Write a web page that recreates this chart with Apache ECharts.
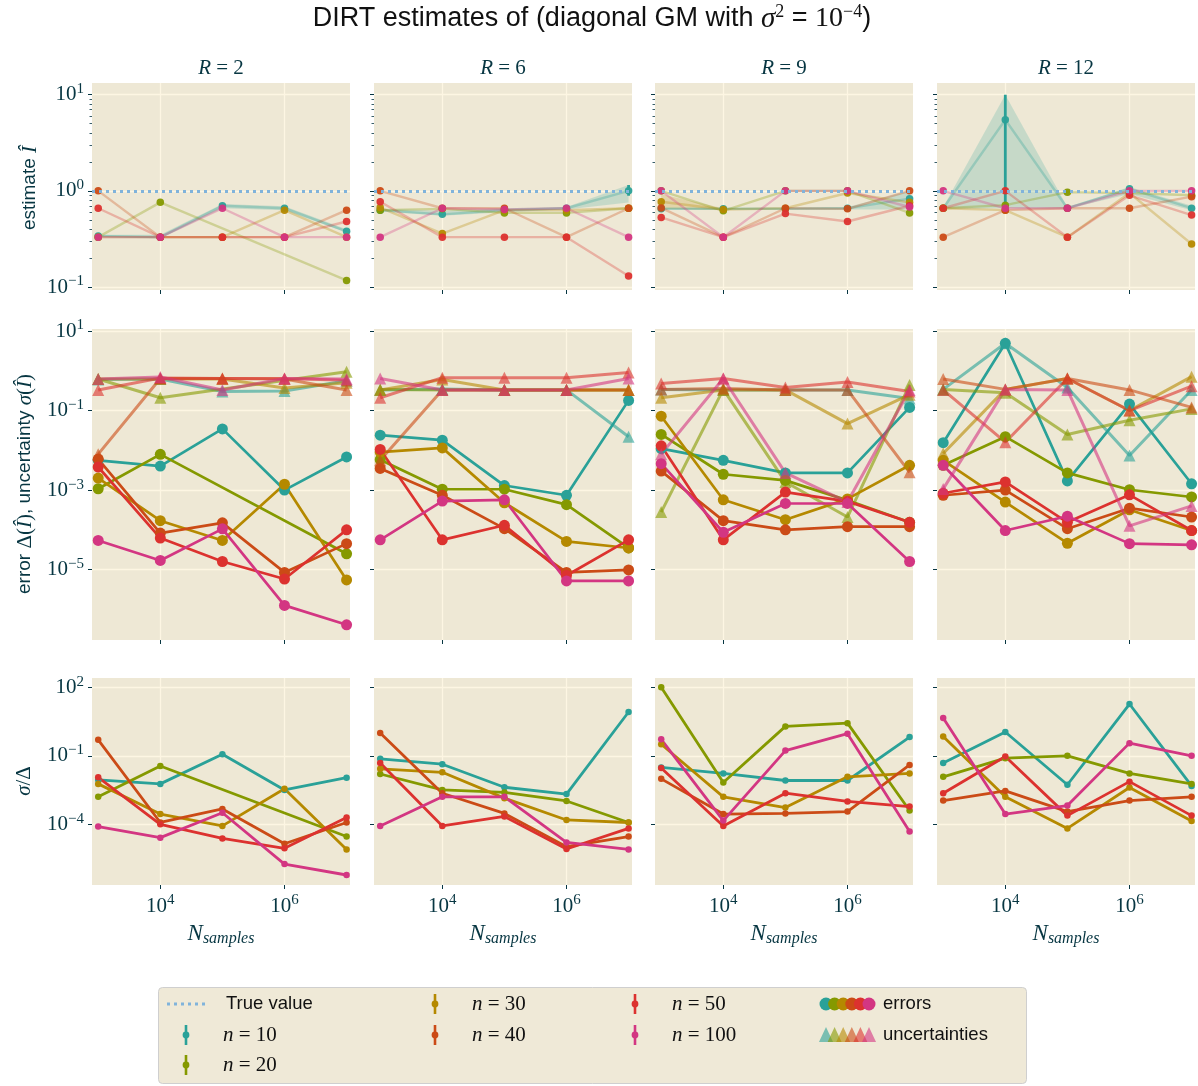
<!DOCTYPE html>
<html>
<head>
<meta charset="utf-8">
<script src="https://cdn.jsdelivr.net/npm/echarts@6/dist/echarts.min.js"></script>
<style>
  html, body { margin: 0; padding: 0; background: #ffffff; }
  #chart { width: 1198px; height: 1086px; }
</style>
</head>
<body>
<div id="chart"></div>
<script>
// ---- data -----------------------------------------------------------------
const N_SAMPLES = [1e3, 1e4, 1e5, 1e6, 1e7];
const RANKS = [2, 6, 9, 12];
const N_VALUES = [10, 20, 30, 40, 50, 100];
const TRUE_VALUE = 1;
const X_TICKS = [1e4, 1e6];
const Y_TICKS_EST = [0.1, 1, 10];
const Y_MINOR_EST = [0.2, 0.3, 0.4, 0.5, 0.6, 0.7, 0.8, 0.9, 2, 3, 4, 5, 6, 7, 8, 9];
const Y_TICKS_ERR = [10, 0.1, 1e-3, 1e-5];
const Y_TICKS_RATIO = [100, 0.1, 1e-4];

// estimate Î (one row per n, one column per N_samples)
const estimateR2 = [
  [0.34, 0.33, 0.70, 0.66, 0.38],
  [0.33, 0.76, null, null, 0.117],
  [0.33, 0.33, 0.33, 0.63, 0.33],
  [1.00, 0.33, 0.33, 0.33, 0.63],
  [0.66, 0.33, 0.33, 0.33, 0.48],
  [0.33, 0.33, 0.66, 0.33, 0.33]
];
const estimateR6 = [
  [0.63, 0.57, 0.63, 0.66, 1.00],
  [0.63, 0.65, 0.59, 0.59, 0.66],
  [0.67, 0.36, 0.63, 0.63, 0.66],
  [1.00, 0.66, 0.66, 0.33, 0.66],
  [0.77, 0.33, 0.33, 0.33, 0.13],
  [0.33, 0.66, 0.64, 0.66, 0.33]
];
const estimateR9 = [
  [0.65, 0.65, 0.65, 0.66, 0.83],
  [1.00, 0.62, 1.00, 1.00, 0.59],
  [0.77, 0.64, 0.66, 0.95, 0.76],
  [0.665, 0.33, 0.66, 0.65, 1.00],
  [0.53, 0.33, 0.58, 0.48, 0.70],
  [1.00, 0.33, 1.00, 1.00, 0.68]
];
const estimateR12 = [
  [0.66, 5.5, 0.66, 1.05, 0.66],
  [0.66, 0.71, 0.97, 0.95, 0.90],
  [0.66, 0.63, 0.33, 0.95, 0.28],
  [0.33, 0.63, 0.66, 0.66, 0.87],
  [0.66, 1.00, 0.33, 0.90, 0.56],
  [1.00, 0.66, 0.66, 1.00, 1.00]
];

// shaded uncertainty bands around Î
const bandsR2 = [{ n: 10, lo: [0.33, 0.32, 0.66, 0.63, 0.37], hi: [0.35, 0.35, 0.73, 0.69, 0.40] }];
const bandsR6 = [{ n: 10, lo: [0.61, 0.55, 0.60, 0.64, 0.755], hi: [0.65, 0.62, 0.66, 0.68, 1.15] }];
const bandsR9 = [
  { n: 10, lo: [0.64, 0.64, 0.64, 0.64, 0.64], hi: [0.67, 0.67, 0.67, 0.68, 1.0] },
  { n: 30, lo: [0.65, 0.63, null, null, null], hi: [0.92, 0.66, null, null, null] }
];
const bandsR12 = [{ n: 10, lo: [0.65, 0.66, 0.65, 0.93, 0.63], hi: [0.68, 10, 0.68, 1.1, 0.70] }];

// visible error bars on Î: [N_samples, low, high]
const errbarsR2 = [];
const errbarsR6 = [{ n: 10, bars: [[1e7, 0.89, 1.15]] }];
const errbarsR9 = [];
const errbarsR12 = [{ n: 10, bars: [[1e4, 0.63, 10]] }];

// error Δ(Î)
const errorR2 = [
  [5.6e-3, 4.0e-3, 3.45e-2, 1.0e-3, 6.8e-3],
  [1.08e-3, 7.9e-3, null, null, 2.5e-5],
  [2.0e-3, 1.7e-4, 5.4e-5, 1.4e-3, 5.5e-6],
  [6.0e-3, 8.3e-5, 1.5e-4, 8.5e-6, 4.5e-5],
  [3.8e-3, 6.2e-5, 1.6e-5, 5.8e-6, 1.0e-4],
  [5.4e-5, 1.7e-5, 1.06e-4, 1.26e-6, 4.1e-7]
];
const errorR6 = [
  [2.4e-2, 1.8e-2, 1.3e-3, 7.4e-4, 0.18],
  [5.8e-3, 1.05e-3, 1.05e-3, 4.3e-4, 3.5e-5],
  [9.0e-3, 1.15e-2, 4.8e-4, 5.1e-5, 3.5e-5],
  [3.5e-3, 7.4e-4, 1.07e-4, 8.5e-6, 9.8e-6],
  [1.05e-2, 5.6e-5, 1.3e-4, 7.1e-6, 5.6e-5],
  [5.6e-5, 5.3e-4, 5.7e-4, 5.2e-6, 5.2e-6]
];
const errorR9 = [
  [1.1e-2, 5.6e-3, 2.7e-3, 2.7e-3, 0.12],
  [2.5e-2, 2.5e-3, 1.75e-3, 5.5e-4, 1.55e-4],
  [7.2e-2, 5.7e-4, 1.8e-4, 6.0e-4, 4.2e-3],
  [3.0e-3, 1.7e-4, 1.0e-4, 1.2e-4, 1.2e-4],
  [1.3e-2, 5.6e-5, 8.9e-4, 5.2e-4, 1.55e-4],
  [4.6e-3, 8.7e-5, 4.6e-4, 4.6e-4, 1.6e-5]
];
const errorR12 = [
  [1.55e-2, 4.9, 1.7e-3, 0.145, 1.44e-3],
  [4.2e-3, 2.2e-2, 2.7e-3, 1.02e-3, 6.7e-4],
  [5.6e-3, 5.0e-4, 4.6e-5, 3.2e-4, 9.6e-5],
  [7.4e-4, 1.0e-3, 1.07e-4, 3.5e-4, 2.1e-4],
  [8.3e-4, 1.6e-3, 1.55e-4, 7.6e-4, 9.6e-5],
  [4.2e-3, 9.6e-5, 2.2e-4, 4.5e-5, 4.2e-5]
];

// uncertainty σ(Î)
const uncertR2 = [
  [0.60, 0.62, 0.30, 0.31, 0.56],
  [0.62, 0.21, null, null, 0.94],
  [0.62, 0.62, 0.62, 0.37, 0.50],
  [8.0e-3, 0.64, 0.64, 0.62, 0.33],
  [0.33, 0.66, 0.64, 0.64, 0.58],
  [0.62, 0.70, 0.33, 0.64, 0.62]
];
const uncertR6 = [
  [0.33, 0.35, 0.33, 0.33, 0.022],
  [0.34, 0.33, 0.33, 0.33, 0.33],
  [0.33, 0.60, 0.33, 0.33, 0.33],
  [5.6e-3, 0.33, 0.33, 0.33, 0.33],
  [0.21, 0.67, 0.67, 0.67, 0.90],
  [0.64, 0.33, 0.33, 0.33, 0.64]
];
const uncertR9 = [
  [0.34, 0.33, 0.33, 0.33, 0.20],
  [2.8e-4, 0.34, 1.6e-3, 2.1e-4, 0.44],
  [0.21, 0.33, 0.33, 0.047, 0.25],
  [0.34, 0.36, 0.33, 0.33, 2.8e-3],
  [0.48, 0.64, 0.38, 0.52, 0.30],
  [8.0e-3, 0.64, 2.7e-3, 5.0e-4, 0.33]
];
const uncertR12 = [
  [0.34, 4.9, 0.38, 7.4e-3, 0.33],
  [0.34, 0.28, 2.5e-2, 5.7e-2, 0.11],
  [8.3e-3, 0.34, 0.64, 0.10, 0.71],
  [0.62, 0.34, 0.64, 0.33, 0.12],
  [0.33, 1.6e-2, 0.64, 0.10, 0.41],
  [1.07e-3, 0.34, 0.33, 1.26e-4, 4.0e-4]
];

// ratio plotted on the σ/Δ axis
const ratioR2 = [
  [8.9e-3, 5.9e-3, 0.117, 3.2e-3, 1.1e-2],
  [1.6e-3, 3.6e-2, null, null, 2.9e-5],
  [5.9e-3, 2.8e-4, 8.5e-5, 3.6e-3, 7.9e-6],
  [0.50, 1.2e-4, 4.7e-4, 1.4e-5, 1.2e-4],
  [1.15e-2, 1.0e-4, 2.4e-5, 8.9e-6, 2.0e-4],
  [8.0e-5, 2.6e-5, 3.2e-4, 1.8e-6, 6.0e-7]
];
const ratioR6 = [
  [7.4e-2, 4.3e-2, 4.2e-3, 2.1e-3, 8.3],
  [1.6e-2, 3.2e-3, 2.5e-3, 1.05e-3, 1.2e-4],
  [2.7e-2, 1.9e-2, 1.4e-3, 1.55e-4, 1.2e-4],
  [0.99, 2.3e-3, 3.0e-4, 1.05e-5, 2.9e-5],
  [4.8e-2, 8.5e-5, 2.2e-4, 8.3e-6, 6.6e-5],
  [8.5e-5, 1.6e-3, 1.6e-3, 1.6e-5, 7.9e-6]
];
const ratioR9 = [
  [3.1e-2, 1.7e-2, 8.3e-3, 8.3e-3, 0.66],
  [100, 6.8e-3, 1.95, 2.7, 4.0e-4],
  [0.32, 1.6e-3, 5.4e-4, 1.2e-2, 1.7e-2],
  [9.8e-3, 2.8e-4, 3.0e-4, 3.6e-4, 4.0e-2],
  [2.9e-2, 8.5e-5, 2.3e-3, 1.0e-3, 6.0e-4],
  [0.53, 1.45e-4, 0.17, 0.93, 4.8e-5]
];
const ratioR12 = [
  [4.8e-2, 1.1, 5.4e-3, 18.6, 4.8e-3],
  [1.2e-2, 7.9e-2, 0.10, 1.7e-2, 5.9e-3],
  [0.71, 1.6e-3, 6.6e-5, 4.1e-3, 1.4e-4],
  [1.1e-3, 2.9e-3, 3.6e-4, 1.1e-3, 1.6e-3],
  [2.3e-3, 9.3e-2, 2.4e-4, 7.4e-3, 2.4e-4],
  [4.5, 2.8e-4, 6.6e-4, 0.36, 0.10]
];

const ESTIMATES = [estimateR2, estimateR6, estimateR9, estimateR12];
const BANDS = [bandsR2, bandsR6, bandsR9, bandsR12];
const ERRBARS = [errbarsR2, errbarsR6, errbarsR9, errbarsR12];
const ERRORS = [errorR2, errorR6, errorR9, errorR12];
const UNCERTS = [uncertR2, uncertR6, uncertR9, uncertR12];
const RATIOS = [ratioR2, ratioR6, ratioR9, ratioR12];

// ---- style ----------------------------------------------------------------
const COLORS = ['#2aa198', '#859900', '#b58900', '#cb4b16', '#dc322f', '#d33682'];
const PANEL_BG = '#eee8d5';
const GRID_LINE = '#fdf6e3';
const INK = '#073642';
const TRUE_COLOR = '#80b3db';
const SANS = "'Liberation Sans', Arial, sans-serif";
const SERIF = "'Liberation Serif', 'Times New Roman', serif";

const COL_LEFT = [92, 374, 655, 937];
const COL_WIDTH = 258;
const ROW_TOP = [83, 329, 678];
const ROW_HEIGHT = [207, 311, 207];
const X_LOG_RANGE = [2.9, 7.055];
const ROW_LOG_RANGE = [[-1.031, 1.122], [-6.77, 1.05], [-6.66, 2.41]];
const ROW_TICKS = [Y_TICKS_EST, Y_TICKS_ERR, Y_TICKS_RATIO];

const powRich = {
  b: { fontFamily: SERIF, fontSize: 21, color: INK },
  e: { fontFamily: SERIF, fontSize: 15, color: INK, padding: [0, 0, 11, 0] }
};
function powLabel(v) {
  const e = Math.round(Math.log10(v));
  return '{b|10}{e|' + (e < 0 ? '\u2212' : '') + Math.abs(e) + '}';
}

const grids = [], xAxes = [], yAxes = [], minorAxes = [], series = [];

for (let r = 0; r < 3; r++) {
  for (let c = 0; c < 4; c++) {
    const gi = r * 4 + c;
    grids.push({
      left: COL_LEFT[c], top: ROW_TOP[r], width: COL_WIDTH, height: ROW_HEIGHT[r],
      show: true, backgroundColor: PANEL_BG, borderWidth: 0, containLabel: false
    });
    xAxes.push({
      type: 'log', logBase: 10, gridIndex: gi,
      min: Math.pow(10, X_LOG_RANGE[0]), max: Math.pow(10, X_LOG_RANGE[1]),
      axisLine: { show: false },
      axisTick: { show: true, customValues: X_TICKS, length: 4, lineStyle: { color: INK, width: 1 } },
      axisLabel: {
        show: r === 2, customValues: X_TICKS, margin: 8,
        formatter: powLabel, rich: powRich
      },
      splitLine: { show: true, lineStyle: { color: GRID_LINE, width: 1.3 } },
      minorTick: { show: false }, minorSplitLine: { show: false }
    });
    yAxes.push({
      type: 'log', logBase: 10, gridIndex: gi, position: 'left',
      min: Math.pow(10, ROW_LOG_RANGE[r][0]), max: Math.pow(10, ROW_LOG_RANGE[r][1]),
      axisLine: { show: false },
      axisTick: { show: true, customValues: ROW_TICKS[r], length: 4, lineStyle: { color: INK, width: 1 } },
      axisLabel: {
        show: c === 0, customValues: ROW_TICKS[r], margin: 8,
        formatter: powLabel, rich: powRich
      },
      splitLine: { show: true, lineStyle: { color: GRID_LINE, width: 1.3 } }
    });
    if (r === 0) {
      minorAxes.push({
        type: 'log', logBase: 10, gridIndex: gi, position: 'left', offset: 0,
        min: Math.pow(10, ROW_LOG_RANGE[0][0]), max: Math.pow(10, ROW_LOG_RANGE[0][1]),
        axisLine: { show: false },
        axisTick: { show: true, customValues: Y_MINOR_EST, length: 2.5, lineStyle: { color: INK, width: 0.8 } },
        axisLabel: { show: false },
        splitLine: { show: false }
      });
    }
  }
}

function pointsOf(values) {
  const pts = [];
  N_SAMPLES.forEach((x, i) => { if (values[i] != null) pts.push([x, values[i]]); });
  return pts;
}

// ---- row 1: estimates ------------------------------------------------------
RANKS.forEach((R, c) => {
  const gi = c;
  BANDS[c].forEach(b => {
    const color = COLORS[N_VALUES.indexOf(b.n)];
    const segs = [];
    for (let i = 0; i < N_SAMPLES.length - 1; i++) {
      if (b.lo[i] != null && b.lo[i + 1] != null) {
        segs.push([N_SAMPLES[i], b.lo[i], b.hi[i], N_SAMPLES[i + 1], b.lo[i + 1], b.hi[i + 1]]);
      }
    }
    series.push({
      type: 'custom', xAxisIndex: gi, yAxisIndex: gi, silent: true, z: 1,
      data: segs,
      encode: { x: [0, 3], y: [1, 2, 4, 5] },
      renderItem: (params, api) => {
        const a = api.coord([api.value(0), api.value(1)]);
        const b2 = api.coord([api.value(0), api.value(2)]);
        const d = api.coord([api.value(3), api.value(4)]);
        const e = api.coord([api.value(3), api.value(5)]);
        return {
          type: 'polygon',
          shape: { points: [a, d, e, b2] },
          style: { fill: color, opacity: 0.2 }
        };
      }
    });
  });
  N_VALUES.forEach((n, k) => {
    const s = {
      type: 'line', name: 'n = ' + n, xAxisIndex: gi, yAxisIndex: gi,
      data: pointsOf(ESTIMATES[c][k]),
      symbol: 'circle', symbolSize: 7.5, showSymbol: true, showAllSymbol: true,
      lineStyle: { color: COLORS[k], width: 2.4, opacity: 0.3 },
      itemStyle: { color: COLORS[k], opacity: 0.95 },
      emphasis: { disabled: true }
    };
    if (k === 0) {
      s.markLine = {
        silent: true, symbol: ['none', 'none'], label: { show: false },
        lineStyle: { color: TRUE_COLOR, opacity: 1, width: 3, type: [3, 4] },
        data: [{ yAxis: TRUE_VALUE }]
      };
    }
    series.push(s);
  });
  ERRBARS[c].forEach(eb => {
    const color = COLORS[N_VALUES.indexOf(eb.n)];
    series.push({
      type: 'custom', xAxisIndex: gi, yAxisIndex: gi, silent: true, z: 3,
      data: eb.bars,
      encode: { x: 0, y: [1, 2] },
      renderItem: (params, api) => {
        const p = api.coord([api.value(0), api.value(1)]);
        const q = api.coord([api.value(0), api.value(2)]);
        return {
          type: 'line',
          shape: { x1: p[0], y1: p[1], x2: q[0], y2: q[1] },
          style: { stroke: color, lineWidth: 2.8 }
        };
      }
    });
  });
});

// ---- row 2: errors and uncertainties ---------------------------------------
RANKS.forEach((R, c) => {
  const gi = 4 + c;
  N_VALUES.forEach((n, k) => {
    series.push({
      type: 'line', xAxisIndex: gi, yAxisIndex: gi,
      data: pointsOf(ERRORS[c][k]),
      symbol: 'circle', symbolSize: 11, showAllSymbol: true,
      lineStyle: { color: COLORS[k], width: 2.7 },
      itemStyle: { color: COLORS[k] },
      emphasis: { disabled: true }
    });
    series.push({
      type: 'line', xAxisIndex: gi, yAxisIndex: gi,
      data: pointsOf(UNCERTS[c][k]),
      symbol: 'triangle', symbolSize: 12, showAllSymbol: true,
      lineStyle: { color: COLORS[k], width: 3, opacity: 0.6 },
      itemStyle: { color: COLORS[k], opacity: 0.6 },
      emphasis: { disabled: true }
    });
  });
});

// ---- row 3: ratio ----------------------------------------------------------
RANKS.forEach((R, c) => {
  const gi = 8 + c;
  N_VALUES.forEach((n, k) => {
    series.push({
      type: 'line', xAxisIndex: gi, yAxisIndex: gi,
      data: pointsOf(RATIOS[c][k]),
      symbol: 'circle', symbolSize: 6.5, showAllSymbol: true,
      lineStyle: { color: COLORS[k], width: 2.8 },
      itemStyle: { color: COLORS[k] },
      emphasis: { disabled: true }
    });
  });
});

// ---- texts -----------------------------------------------------------------
const graphics = [];

graphics.push({
  type: 'text', x: 592, y: 19,
  style: {
    text: '{sf|DIRT estimates of (diagonal GM with }{it|\u03c3}{sup|2}{sf| = }{rm|10}{sup|\u22124}{sf|)}',
    align: 'center', verticalAlign: 'middle',
    rich: {
      sf: { fontFamily: SANS, fontSize: 27, fill: '#111' },
      it: { fontFamily: SERIF, fontStyle: 'italic', fontSize: 29, fill: '#111' },
      rm: { fontFamily: SERIF, fontSize: 28, fill: '#111' },
      sup: { fontFamily: SERIF, fontSize: 18, fill: '#111', padding: [0, 0, 13, 0] }
    }
  }
});

RANKS.forEach((R, c) => {
  graphics.push({
    type: 'text', x: COL_LEFT[c] + COL_WIDTH / 2, y: 68,
    style: {
      text: '{it|R}{rm| = ' + R + '}', align: 'center', verticalAlign: 'middle',
      rich: {
        it: { fontFamily: SERIF, fontStyle: 'italic', fontSize: 21, fill: INK },
        rm: { fontFamily: SERIF, fontSize: 21, fill: INK }
      }
    }
  });
  graphics.push({
    type: 'text', x: COL_LEFT[c] + COL_WIDTH / 2, y: 934,
    style: {
      text: '{it|N}{sub|samples}', align: 'center', verticalAlign: 'middle',
      rich: {
        it: { fontFamily: SERIF, fontStyle: 'italic', fontSize: 23, fill: INK },
        sub: { fontFamily: SERIF, fontStyle: 'italic', fontSize: 16, fill: INK, padding: [10, 0, 0, 0] }
      }
    }
  });
});

const yNameRich = {
  sf: { fontFamily: SANS, fontSize: 19, fill: INK },
  it: { fontFamily: SERIF, fontStyle: 'italic', fontSize: 21, fill: INK },
  rm: { fontFamily: SERIF, fontSize: 21, fill: INK }
};
graphics.push({
  type: 'text', x: 30, y: 188, rotation: Math.PI / 2,
  style: { text: '{sf|estimate }{it|\u00ce}', align: 'center', verticalAlign: 'middle', rich: yNameRich }
});
graphics.push({
  type: 'text', x: 25, y: 484, rotation: Math.PI / 2,
  style: {
    text: '{sf|error }{rm|\u0394(}{it|\u00ce}{rm|)}{sf|, uncertainty }{it|\u03c3}{rm|(}{it|\u00ce}{rm|)}',
    align: 'center', verticalAlign: 'middle', rich: yNameRich
  }
});
graphics.push({
  type: 'text', x: 24, y: 781, rotation: Math.PI / 2,
  style: { text: '{it|\u03c3}{rm|/\u0394}', align: 'center', verticalAlign: 'middle', rich: yNameRich }
});

// ---- legend ----------------------------------------------------------------
graphics.push({
  type: 'rect', shape: { x: 158.5, y: 987.5, width: 868, height: 96, r: 4 },
  style: { fill: '#efe9d7', stroke: '#cfcfcf', lineWidth: 1 }
});
graphics.push({
  type: 'line', shape: { x1: 167, y1: 1004, x2: 207, y2: 1004 },
  style: { stroke: TRUE_COLOR, lineWidth: 3, lineDash: [3, 4] }
});
graphics.push({
  type: 'text', x: 226, y: 1004,
  style: { text: 'True value', font: '18.5px ' + SANS, fill: '#111', verticalAlign: 'middle' }
});
const legendSlots = [[186, 1035], [186, 1065], [435, 1004], [435, 1035], [635, 1004], [635, 1035]];
N_VALUES.forEach((n, k) => {
  const [gx, gy] = legendSlots[k];
  graphics.push({
    type: 'line', shape: { x1: gx, y1: gy - 10, x2: gx, y2: gy + 10 },
    style: { stroke: COLORS[k], lineWidth: 2.6 }
  });
  graphics.push({ type: 'circle', shape: { cx: gx, cy: gy, r: 3.4 }, style: { fill: COLORS[k] } });
  graphics.push({
    type: 'text', x: gx + 37, y: gy,
    style: {
      text: '{it|n}{rm| = ' + n + '}', verticalAlign: 'middle',
      rich: {
        it: { fontFamily: SERIF, fontStyle: 'italic', fontSize: 21, fill: '#111' },
        rm: { fontFamily: SERIF, fontSize: 21, fill: '#111' }
      }
    }
  });
});
COLORS.forEach((col, k) => {
  graphics.push({ type: 'circle', shape: { cx: 826 + 8.6 * k, cy: 1004, r: 6.5 }, style: { fill: col } });
});
COLORS.forEach((col, k) => {
  const cx = 826 + 8.6 * k;
  graphics.push({
    type: 'polygon', shape: { points: [[cx, 1027], [cx - 7, 1042], [cx + 7, 1042]] },
    style: { fill: col, opacity: 0.6 }
  });
});
graphics.push({
  type: 'text', x: 883, y: 1004,
  style: { text: 'errors', font: '18.5px ' + SANS, fill: '#111', verticalAlign: 'middle' }
});
graphics.push({
  type: 'text', x: 883, y: 1035,
  style: { text: 'uncertainties', font: '18.5px ' + SANS, fill: '#111', verticalAlign: 'middle' }
});

const chart = echarts.init(document.getElementById('chart'), null, { renderer: 'canvas' });
chart.setOption({
  animation: false,
  backgroundColor: '#ffffff',
  grid: grids,
  xAxis: xAxes,
  yAxis: yAxes.concat(minorAxes),
  series: series,
  graphic: graphics
});
</script>
</body>
</html>
